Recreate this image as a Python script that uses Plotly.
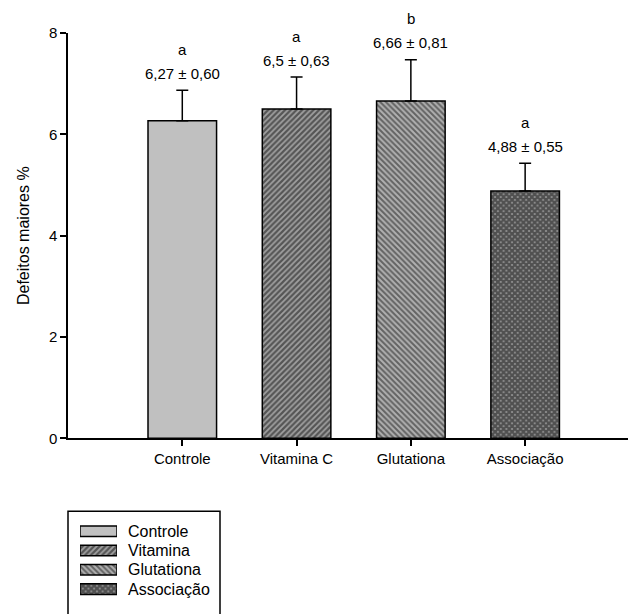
import plotly.graph_objects as go

# Data
categories = ["Controle", "Vitamina C", "Glutationa", "Associação"]
legend_names = ["Controle", "Vitamina", "Glutationa", "Associação"]
means = [6.27, 6.5, 6.66, 4.88]
errors = [0.60, 0.63, 0.81, 0.55]
letters = ["a", "a", "b", "a"]
y_ticks = [0, 2, 4, 6, 8]

FONT = "Liberation Sans, Arial, sans-serif"
W, H = 629, 614
ML, MR, MT, MB = 68, 1, 33, 0
PW, PH = W - ML - MR, H - MT - MB  # paper area in px


def px_x(px):
    return (px - ML) / PW


def px_y(py):
    return (H - MB - py) / PH


# Fill style per group
patterns = [
    None,
    dict(shape="/", fgcolor="#0a0a0a", bgcolor="#a0a0a0", size=4, solidity=0.55),
    dict(shape="\\", fgcolor="#151515", bgcolor="#b0b0b0", size=4, solidity=0.5),
    dict(shape="x", fgcolor="#050505", bgcolor="#9a9a9a", size=4, solidity=0.8),
]


def bar_marker(pat):
    marker = dict(color="#c0c0c0", line=dict(color="black", width=1.5))
    if pat:
        marker["pattern"] = pat
    return marker


def fmt(v, nd=None):
    s = f"{v:.{nd}f}" if nd is not None else f"{v:g}"
    return s.replace(".", ",")


fig = go.Figure()

# Main bars with upper error bars
for cat, m, e, pat in zip(categories, means, errors, patterns):
    fig.add_trace(go.Bar(
        x=[cat], y=[m], width=0.6, showlegend=False,
        marker=bar_marker(pat),
        error_y=dict(type="data", array=[e], arrayminus=[0], symmetric=False,
                     color="black", thickness=1.5, width=6),
    ))

# Legend key: one swatch per group on a small hidden axis pair
for name, pat in zip(legend_names, patterns):
    fig.add_trace(go.Bar(
        x=[1], y=[name], orientation="h", width=0.55, showlegend=False,
        xaxis="x2", yaxis="y2", marker=bar_marker(pat), hoverinfo="skip",
    ))
    fig.add_annotation(x=px_x(126), xref="paper", y=name, yref="y2",
                       text=name, showarrow=False, xanchor="left",
                       font=dict(family=FONT, size=16, color="black"))

# Legend frame
fig.add_shape(type="rect", xref="paper", yref="paper",
              x0=px_x(68), x1=px_x(220), y0=px_y(640), y1=px_y(518),
              line=dict(color="black", width=1.5), fillcolor="rgba(0,0,0,0)",
              layer="below")

# Value and significance labels above each error bar
for cat, m, e, letter in zip(categories, means, errors, letters):
    fig.add_annotation(x=cat, y=m + e, xref="x", yref="y",
                       text=f"{fmt(m)} ± {fmt(e, 2)}", showarrow=False,
                       yshift=17, font=dict(family=FONT, size=15, color="black"))
    fig.add_annotation(x=cat, y=m + e, xref="x", yref="y",
                       text=letter, showarrow=False,
                       yshift=41, font=dict(family=FONT, size=15, color="black"))

fig.update_layout(
    width=W, height=H, autosize=False,
    margin=dict(l=ML, r=MR, t=MT, b=MB),
    paper_bgcolor="white", plot_bgcolor="rgba(0,0,0,0)",
    barmode="overlay",
    font=dict(family=FONT, size=15, color="black"),
    showlegend=False,
    xaxis=dict(
        domain=[0, 1], range=[-1.0, 3.9], showgrid=False, zeroline=False,
        showline=True, linecolor="black", linewidth=1.5,
        ticks="outside", ticklen=6, tickwidth=1.5, tickcolor="black",
        tickfont=dict(family=FONT, size=15, color="black"),
        automargin=False,
    ),
    yaxis=dict(
        domain=[px_y(444), 1], range=[0, 8], tickvals=y_ticks,
        showgrid=False, zeroline=False,
        showline=True, linecolor="black", linewidth=1.5,
        ticks="outside", ticklen=6, tickwidth=1.5, tickcolor="black",
        tickfont=dict(family=FONT, size=15, color="black"),
        title=dict(text="Defeitos maiores %", standoff=15,
                   font=dict(family=FONT, size=16, color="black")),
    ),
    xaxis2=dict(domain=[px_x(80), px_x(117)], range=[0, 1], visible=False,
                anchor="y2", fixedrange=True),
    yaxis2=dict(domain=[px_y(607.5), px_y(527.5)], type="category",
                categoryorder="array", categoryarray=legend_names,
                autorange="reversed", visible=False, anchor="x2",
                fixedrange=True),
)

fig.write_html("out.html")
